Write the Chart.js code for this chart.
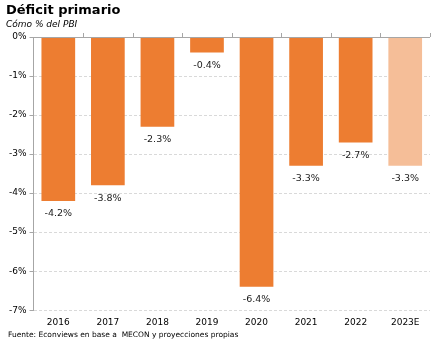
<!DOCTYPE html>
<html>
<head>
<meta charset="utf-8">
<script src="https://cdn.jsdelivr.net/npm/chart.js@4"></script>
<style>
  html, body { margin: 0; padding: 0; background: #fff; }
  #wrap { width: 443px; height: 342px; }
</style>
</head>
<body>
<div id="wrap"><canvas id="c" width="443" height="342"></canvas></div>
<script>
// Primary deficit as % of GDP
const years = ['2016', '2017', '2018', '2019', '2020', '2021', '2022', '2023E'];
const deficit = [-4.2, -3.8, -2.3, -0.4, -6.4, -3.3, -2.7, -3.3];
const yTicks = [0, -1, -2, -3, -4, -5, -6, -7];

const FONT = '"DejaVu Sans", Verdana, sans-serif';
const barColors = years.map(y => y.endsWith('E') ? '#F5BE98' : '#ED7D31');

const decor = {
  id: 'decor',
  afterDatasetsDraw(chart) {
    const { ctx, chartArea, scales } = chart;
    const x = scales.x, y = scales.y;
    const y0 = Math.round(y.getPixelForValue(0));
    ctx.save();
    // zero line and category separators
    ctx.strokeStyle = '#a6a6a6';
    ctx.lineWidth = 1;
    ctx.beginPath();
    ctx.moveTo(chartArea.left, y0 + 0.5);
    ctx.lineTo(chartArea.right, y0 + 0.5);
    const step = x.getPixelForValue(1) - x.getPixelForValue(0);
    for (let i = 1; i <= years.length; i++) {
      const px = Math.round(x.getPixelForValue(i) - step / 2) + 0.5;
      ctx.moveTo(px, y0);
      ctx.lineTo(px, y0 - 4);
    }
    ctx.stroke();
    // value labels under each bar
    ctx.fillStyle = '#1a1a1a';
    ctx.font = '9.5px ' + FONT;
    ctx.textAlign = 'center';
    ctx.textBaseline = 'top';
    const meta = chart.getDatasetMeta(0);
    meta.data.forEach((bar, i) => {
      const v = deficit[i];
      const txt = v.toFixed(1) + '%';
      ctx.fillText(txt, bar.x, y.getPixelForValue(v) + 8);
    });
    ctx.restore();
  },
  afterDraw(chart) {
    const { ctx } = chart;
    ctx.save();
    ctx.fillStyle = '#000';
    ctx.textAlign = 'left';
    ctx.textBaseline = 'alphabetic';
    ctx.font = 'bold 13px ' + FONT;
    ctx.fillText('Déficit primario', 6, 14);
    ctx.font = 'italic 9px ' + FONT;
    ctx.fillText('Cómo % del PBI', 6, 27);
    ctx.font = '7.5px ' + FONT;
    ctx.fillText('Fuente: Econviews en base a  MECON y proyecciones propias', 8, 337);
    ctx.restore();
  }
};

new Chart(document.getElementById('c'), {
  type: 'bar',
  data: {
    labels: years,
    datasets: [{
      data: deficit,
      backgroundColor: barColors,
      borderWidth: 0,
      categoryPercentage: 1,
      barPercentage: 0.68
    }]
  },
  options: {
    responsive: false,
    animation: false,
    layout: { padding: { top: 37, left: 6, right: 13, bottom: 7 } },
    plugins: { legend: { display: false }, tooltip: { enabled: false } },
    scales: {
      x: {
        grid: { display: false, drawTicks: false },
        border: { display: false },
        ticks: { color: '#000', font: { family: FONT, size: 9 }, padding: 7, maxRotation: 0 }
      },
      y: {
        min: -7, max: 0,
        afterBuildTicks(scale) { scale.ticks = yTicks.map(v => ({ value: v })); },
        ticks: {
          color: '#000',
          font: { family: FONT, size: 9 },
          padding: 3,
          callback: v => v + '%'
        },
        grid: {
          color: ctx => ctx.tick && ctx.tick.value === 0 ? 'rgba(0,0,0,0)' : '#d9d9d9',
          tickColor: '#a6a6a6',
          tickLength: 4,
          tickBorderDash: [],
          drawOnChartArea: true
        },
        border: { display: true, color: '#a6a6a6', width: 1, dash: [3, 2] }
      }
    }
  },
  plugins: [decor]
});
</script>
</body>
</html>
